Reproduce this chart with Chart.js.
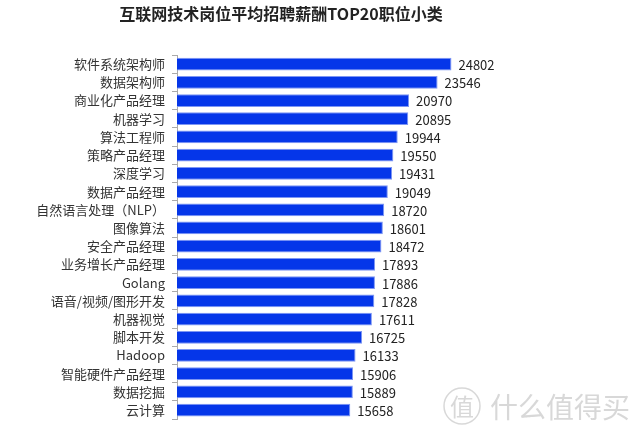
<!DOCTYPE html>
<html>
<head>
<meta charset="utf-8">
<script src="https://cdn.jsdelivr.net/npm/chart.js@4"></script>
<style>
  html, body { margin: 0; padding: 0; background: #fff; }
  #wrap { width: 640px; height: 434px; position: relative; }
</style>
</head>
<body>
<div id="wrap"><canvas id="chart"></canvas></div>
<script>
const TITLE = '互联网技术岗位平均招聘薪酬TOP20职位小类';

const JOBS = [
  '软件系统架构师', '数据架构师', '商业化产品经理', '机器学习', '算法工程师',
  '策略产品经理', '深度学习', '数据产品经理', '自然语言处理（NLP）', '图像算法',
  '安全产品经理', '业务增长产品经理', 'Golang', '语音/视频/图形开发', '机器视觉',
  '脚本开发', 'Hadoop', '智能硬件产品经理', '数据挖掘', '云计算'
];

const SALARY = [
  24802, 23546, 20970, 20895, 19944,
  19550, 19431, 19049, 18720, 18601,
  18472, 17893, 17886, 17828, 17611,
  16725, 16133, 15906, 15889, 15658
];

const FONT = '"Noto Sans CJK SC", "Noto Sans", sans-serif';

// title, value labels and the faint watermark
const decorations = {
  id: 'decorations',
  afterDatasetsDraw(chart) {
    const ctx = chart.ctx;
    const meta = chart.getDatasetMeta(0);
    ctx.save();
    ctx.font = '13px ' + FONT;
    ctx.fillStyle = '#222';
    ctx.textAlign = 'left';
    ctx.textBaseline = 'middle';
    meta.data.forEach((bar, i) => {
      ctx.fillText(String(SALARY[i]), bar.x + 7, bar.y + 1);
    });

    ctx.font = 'bold 16px ' + FONT;
    ctx.fillStyle = '#222';
    ctx.textAlign = 'center';
    ctx.fillText(TITLE, 281, 14);

    // watermark
    ctx.strokeStyle = 'rgba(212,212,212,0.9)';
    ctx.fillStyle = 'rgba(212,212,212,0.9)';
    ctx.lineWidth = 1.5;
    ctx.beginPath();
    ctx.arc(462, 406, 18, 0, Math.PI * 2);
    ctx.stroke();
    ctx.font = '24px ' + FONT;
    ctx.fillText('值', 462, 407);
    ctx.font = '28px ' + FONT;
    ctx.textAlign = 'left';
    ctx.fillText('什么值得买', 490, 407);
    ctx.restore();
  }
};

new Chart(document.getElementById('chart'), {
  type: 'bar',
  data: {
    labels: JOBS,
    datasets: [{
      data: SALARY,
      backgroundColor: '#0536e9',
      borderColor: '#7d96f3',
      borderWidth: 1,
      barPercentage: 0.7,
      categoryPercentage: 1
    }]
  },
  options: {
    indexAxis: 'y',
    responsive: true,
    maintainAspectRatio: false,
    animation: false,
    layout: { padding: { top: 55, right: 131, bottom: 3, left: 0 } },
    plugins: {
      legend: { display: false },
      tooltip: { enabled: false }
    },
    scales: {
      x: {
        display: false,
        min: 0,
        max: 30000
      },
      y: {
        afterFit: s => { s.width = 177; },
        grid: {
          offset: true,
          drawOnChartArea: false,
          tickLength: 5,
          color: '#aaa'
        },
        border: { display: true, color: '#aaa' },
        ticks: {
          autoSkip: false,
          padding: 7,
          color: '#333',
          font: { family: FONT, size: 13 }
        }
      }
    }
  },
  plugins: [decorations]
});
</script>
</body>
</html>
